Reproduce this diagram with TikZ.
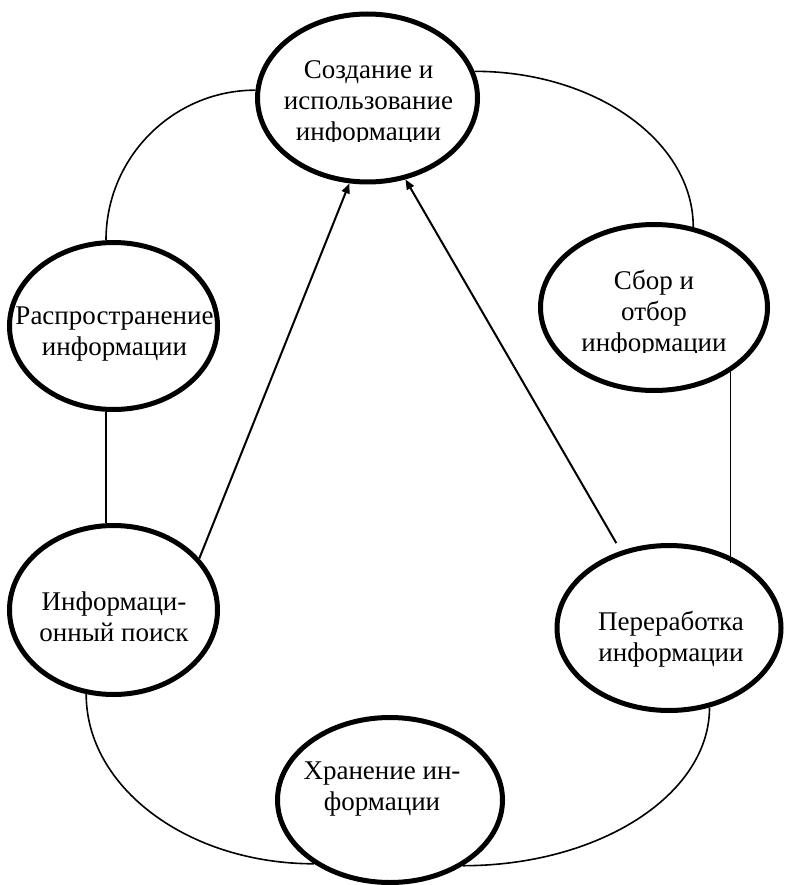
\documentclass[tikz,border=0pt]{standalone}
\usepackage{fontspec}
\setmainfont{Liberation Serif}
\usetikzlibrary{arrows.meta,calc,shapes.geometric}
\begin{document}
\begin{tikzpicture}[x=1pt,y=-1pt,
  bubble/.style={draw=black,line width=5pt,ellipse,inner sep=0pt},
  caption/.style={align=center,inner sep=0pt,font=\fontsize{27}{31}\selectfont},
  link/.style={draw=black,line width=1.6pt},
  flow/.style={draw=black,line width=2pt,-{Triangle[length=10pt,width=8pt]}}]
\fill[white] (0,0) rectangle (785,885);
\useasboundingbox (0,0) rectangle (785,885);

% ellipses
\node[bubble,minimum width=220pt,minimum height=168pt] (cr) at (367.5,98) {};
\node[bubble,minimum width=208pt,minimum height=167pt] (rs) at (113.5,326) {};
\node[bubble,minimum width=227pt,minimum height=166pt] (sb) at (654,307.5) {};
\node[bubble,minimum width=208pt,minimum height=169pt] (ps) at (113.5,610) {};
\node[bubble,minimum width=224pt,minimum height=165pt] (pe) at (669,628) {};
\node[bubble,minimum width=225pt,minimum height=165pt] (hr) at (390,800) {};

% texts
\begin{scope}
  \clip (0,0) rectangle (785,142);
  \node[caption] (crt) at (368.5,103.1) {Создание и\\использование\\информации};
\end{scope}
\begin{scope}
  \clip (0,200) rectangle (785,352.5);
  \node[caption] (sbt) at (654,314) {Сбор и\\отбор\\информации};
\end{scope}
\node[caption] (rst) at (114.5,334.5) {Распространение\\информации};
\node[caption] (pst) at (114,616.5) {Информаци-\\онный поиск};
\node[caption] (pet) at (671,639) {Переработка\\информации};
\node[caption] (hrt) at (382,789.5) {Хранение ин-\\формации};

% connectors
\coordinate (sbend) at (729,563);
\draw[link] (cr.176) .. controls ($(cr.176)!0.552!(rs.95 |- cr.176)$) and ($(rs.95)!0.552!(rs.95 |- cr.176)$) .. (rs.95);
\draw[link] (cr.14) .. controls ($(cr.14)!0.552!(sb.64 |- cr.14)$) and ($(sb.64)!0.552!(sb.64 |- cr.14)$) .. (sb.64);
\draw[link] (rs.265) -- (rs.265 |- ps.95);
\draw[link] (sb.-40) -- (sb.-40 |- sbend);
\draw[link] (ps.252) .. controls ($(ps.252)!0.552!(ps.252 |- hr.220)$) and ($(hr.220)!0.552!(ps.252 |- hr.220)$) .. (hr.220);
\draw[link] (pe.-63) .. controls ($(pe.-63)!0.552!(pe.-63 |- hr.-42)$) and ($(hr.-42)!0.552!(pe.-63 |- hr.-42)$) .. (hr.-42);

\draw[flow] (ps.31) -- (cr.258);
\draw[flow,shorten <=9pt] (pe.122) -- (cr.-65);
\end{tikzpicture}
\end{document}
